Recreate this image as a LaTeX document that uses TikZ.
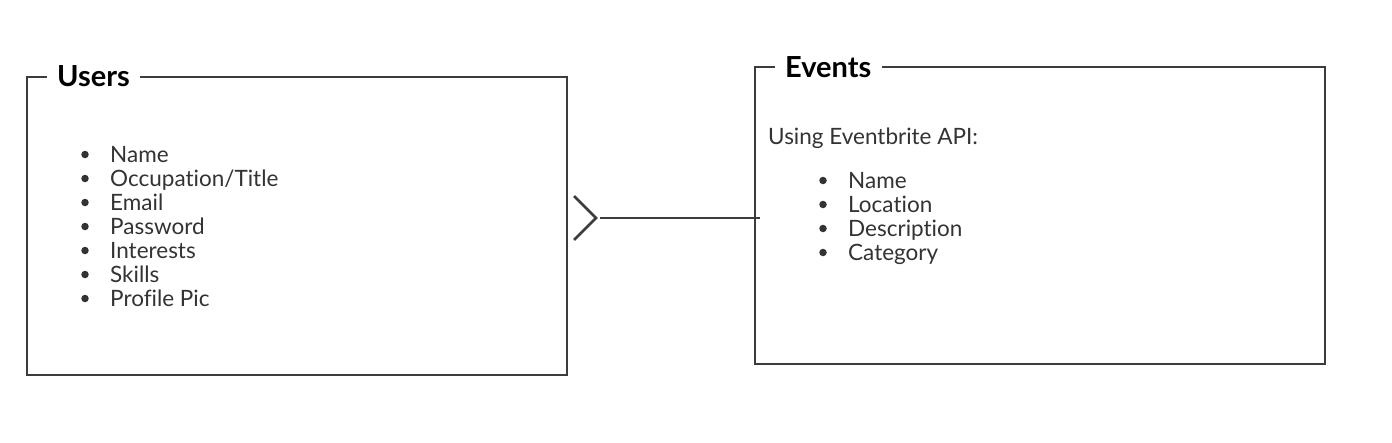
\documentclass[tikz,border=0pt]{standalone}
\usepackage{fontspec}
\setmainfont[Ligatures=NoCommon]{Lato}
\definecolor{ink}{HTML}{3C3C3C}
\definecolor{txt}{HTML}{333333}
\begin{document}
\begin{tikzpicture}[x=1pt,y=-1pt,
  frame/.style={draw=ink,line width=2.6pt},
  ttl/.style={anchor=base west,inner sep=0pt,font=\fontsize{29}{29}\selectfont\bfseries,text=black},
  itm/.style={anchor=base west,inner sep=0pt,font=\fontsize{22.5}{22.5}\selectfont,text=txt},
  dot/.style={circle,fill=txt,inner sep=0pt,minimum size=7.5pt}]
\useasboundingbox (0,0) rectangle (1392,442);
% Users box
\node[ttl] (ut) at (57,86) {Users};
\coordinate (u1) at (27,77);
\coordinate (u2) at (567,375);
\draw[frame] ([xshift=-10pt]ut.west |- u1) -- (u1) -- (u1 |- u2) -- (u2) -- (u2 |- u1) -- ([xshift=10pt]ut.east |- u1);
\foreach \t [count=\i] in {Name,Occupation/Title,Email,Password,Interests,Skills,Profile Pic}{
  \node[itm] (un\i) at (110,{138+24*\i}) {\t};
  \node[dot] (ud\i) at (85,{138+24*\i-7.5}) {};
}
% Events box
\node[ttl] (et) at (785,77) {Events};
\coordinate (e1) at (755,67);
\coordinate (e2) at (1325,364);
\draw[frame] ([xshift=-10pt]et.west |- e1) -- (e1) -- (e1 |- e2) -- (e2) -- (e2 |- e1) -- ([xshift=10pt]et.east |- e1);
\node[itm] (eu) at (768,144) {Using Eventbrite API:};
\foreach \t [count=\i] in {Name,Location,Description,Category}{
  \node[itm] (en\i) at (848,{164+24*\i}) {\t};
  \node[dot] (ed\i) at (823,{164+24*\i-7.5}) {};
}
% connector
\coordinate (ca) at (574,196);
\coordinate (cb) at (596,218);
\coordinate (cc) at (574,240);
\coordinate (cl) at (600,218);
\coordinate (cr) at (760,218);
\draw[frame] (ca) -- (cb) -- (cc);
\draw[frame] (cl) -- (cr);
\end{tikzpicture}
\end{document}
